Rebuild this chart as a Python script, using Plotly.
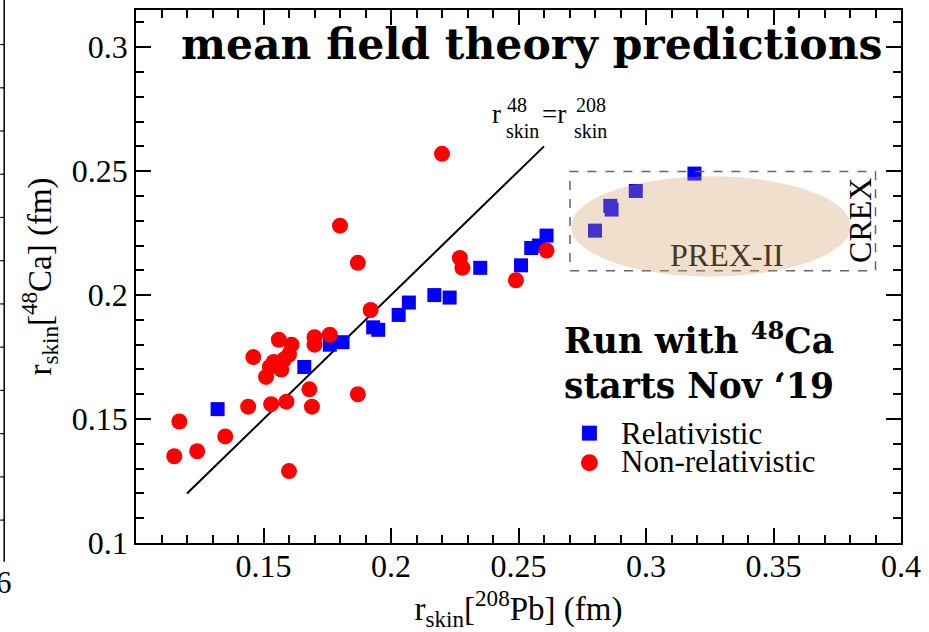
import plotly.graph_objects as go

# Neutron-skin predictions: r_skin[208Pb] (x) vs r_skin[48Ca] (y), in fm
rel_pb = [0.132, 0.166, 0.176, 0.181, 0.193, 0.195, 0.203, 0.207, 0.217, 0.223,
          0.235, 0.251, 0.255, 0.258, 0.261, 0.280, 0.286, 0.2865, 0.296, 0.319]
rel_ca = [0.154, 0.171, 0.180, 0.181, 0.187, 0.186, 0.192, 0.197, 0.200, 0.199,
          0.211, 0.212, 0.219, 0.220, 0.224, 0.226, 0.236, 0.2345, 0.242, 0.249]

nonrel_pb = [0.115, 0.117, 0.124, 0.135, 0.144, 0.146, 0.151, 0.1525, 0.153, 0.154,
             0.156, 0.157, 0.158, 0.159, 0.160, 0.160, 0.161, 0.168, 0.169, 0.170,
             0.170, 0.176, 0.180, 0.187, 0.187, 0.192, 0.220, 0.227, 0.228, 0.249,
             0.261]
nonrel_ca = [0.135, 0.149, 0.137, 0.143, 0.155, 0.175, 0.167, 0.171, 0.156, 0.173,
             0.182, 0.170, 0.174, 0.157, 0.176, 0.129, 0.180, 0.162, 0.155, 0.183,
             0.180, 0.184, 0.228, 0.213, 0.160, 0.194, 0.257, 0.215, 0.211, 0.206,
             0.218]

# Equal-skin reference line r48 = r208
equal_line = [0.12, 0.26]

x_tickvals = [0.15, 0.2, 0.25, 0.3, 0.35, 0.4]
x_ticktext = ["0.15", "0.2", "0.25", "0.3", "0.35", "0.4"]
y_tickvals = [0.1, 0.15, 0.2, 0.25, 0.3]
y_ticktext = ["0.1", "0.15", "0.2", "0.25", "0.3"]

legend_names = ["Relativistic", "Non-relativistic"]

# PREX-II projection ellipse and CREX box (data units)
prex_x = [0.2706, 0.3803]
prex_y = [0.2075, 0.2479]
crex_x = [0.2702, 0.3900]
crex_y = [0.2098, 0.2499]

SERIF = "Liberation Serif, Times New Roman, serif"
SLAB = "DejaVu Serif, serif"
BLUE = "#0000ff"
RED = "#ff0000"

fig = go.Figure()

fig.add_trace(go.Scatter(
    x=equal_line, y=equal_line, mode="lines",
    line=dict(color="black", width=2), showlegend=False, hoverinfo="skip"))

fig.add_trace(go.Scatter(
    x=rel_pb, y=rel_ca, mode="markers", name=legend_names[0], showlegend=False,
    marker=dict(symbol="square", size=14, color=BLUE)))

fig.add_trace(go.Scatter(
    x=nonrel_pb, y=nonrel_ca, mode="markers", name=legend_names[1], showlegend=False,
    marker=dict(symbol="circle", size=16, color=RED)))

axis_common = dict(
    showgrid=False, zeroline=False, showline=True, linecolor="black",
    linewidth=1.5, mirror="allticks", ticks="inside", ticklen=15,
    tickwidth=1.5, tickcolor="black",
    tickfont=dict(family=SERIF, size=32, color="black"),
    minor=dict(ticks="inside", ticklen=8, tickwidth=1.5, tickcolor="black",
               dtick=0.01, tick0=0.1, showgrid=False),
)

fig.update_xaxes(
    range=[0.1, 0.4], tickmode="array", tickvals=x_tickvals, ticktext=x_ticktext,
    ticklabelstandoff=-6,
    title=dict(text="r<sub>skin</sub>[<sup>208</sup>Pb] (fm)",
               font=dict(family=SERIF, size=33, color="black"), standoff=17),
    **axis_common)
fig.update_yaxes(
    range=[0.1, 0.315], tickmode="array", tickvals=y_tickvals, ticktext=y_ticktext,
    title=dict(text="r<sub>skin</sub>[<sup>48</sup>Ca] (fm)",
               font=dict(family=SERIF, size=33, color="black"), standoff=10),
    **axis_common)

shapes = [
    dict(type="rect", xref="x", yref="y", x0=crex_x[0], x1=crex_x[1],
         y0=crex_y[0], y1=crex_y[1], line=dict(color="#666666", width=1.5, dash="dash"),
         fillcolor="rgba(0,0,0,0)", layer="above"),
    dict(type="circle", xref="x", yref="y", x0=prex_x[0], x1=prex_x[1],
         y0=prex_y[0], y1=prex_y[1], line=dict(width=0),
         fillcolor="rgba(205,155,95,0.32)", layer="above"),
]


def px_to_paper(px, py):
    """Pixel position in the figure -> paper coordinates of the plot area."""
    return (px - 136) / 766.0, (548 - py) / 540.0


# legend key: square and circle symbols with their labels
key_x, key_y0 = px_to_paper(590, 436.7)
_, key_y1 = px_to_paper(590, 466.7)
shapes.append(dict(type="rect", xref="paper", yref="paper", xsizemode="pixel",
                   ysizemode="pixel", xanchor=key_x, yanchor=key_y0,
                   x0=-7.5, x1=7.5, y0=-7.5, y1=7.5, fillcolor=BLUE,
                   line=dict(width=0)))
shapes.append(dict(type="circle", xref="paper", yref="paper", xsizemode="pixel",
                   ysizemode="pixel", xanchor=key_x, yanchor=key_y1,
                   x0=-8.5, x1=8.5, y0=-8.5, y1=8.5, fillcolor=RED,
                   line=dict(width=0)))

# edge of the neighbouring panel on the far left
edge_x = -0.1723
shapes.append(dict(type="line", xref="paper", yref="paper", x0=edge_x, x1=edge_x,
                   y0=-0.035, y1=1.02, line=dict(color="black", width=1.5)))
for i in range(12):
    yp = 1.0 - (43 + i * 43.8 - 8) / 540.0
    shapes.append(dict(type="line", xref="paper", yref="paper", x0=-0.1775, x1=edge_x,
                       y0=yp, y1=yp, line=dict(color="black", width=1.2)))

text_x, _ = px_to_paper(620, 0)
_, text_y0 = px_to_paper(0, 436.2)
_, text_y1 = px_to_paper(0, 464.5)

annotations = [
    dict(text="<b>mean field theory predictions</b>", xref="x", yref="paper",
         x=0.2551, y=0.937, xanchor="center", yanchor="middle", showarrow=False,
         font=dict(family=SLAB, size=42.5, color="black")),
    dict(text="<b>Run with <sup>48</sup>Ca<br>starts Nov \u201819</b>", xref="x", yref="paper",
         x=0.2672, y=0.342, xanchor="left", yanchor="middle", align="left",
         showarrow=False, font=dict(family=SLAB, size=34.5, color="black")),
    dict(text=legend_names[0], xref="paper", yref="paper", x=text_x, y=text_y0,
         xanchor="left", yanchor="middle", showarrow=False, height=26,
         font=dict(family=SERIF, size=31, color="black")),
    dict(text=legend_names[1], xref="paper", yref="paper", x=text_x, y=text_y1,
         xanchor="left", yanchor="middle", showarrow=False, height=26,
         font=dict(family=SERIF, size=31, color="black")),
    dict(text="PREX-II", xref="x", yref="y", x=0.3317, y=0.2160,
         xanchor="center", yanchor="middle", showarrow=False,
         font=dict(family=SERIF, size=32, color="#45381f")),
    dict(text="CREX", xref="x", yref="y", x=0.3839, y=0.2303, textangle=-90,
         xanchor="center", yanchor="middle", showarrow=False,
         font=dict(family=SERIF, size=32, color="black")),
    dict(text="6", xref="paper", yref="paper", x=-0.172, y=-0.074,
         xanchor="center", yanchor="middle", showarrow=False,
         font=dict(family=SERIF, size=31, color="black")),
]

# label of the equal-skin line, built piece by piece so sup/sub stack
top = equal_line[1]
label_parts = [
    ("r", 27, -54, 32),
    ("48", 20, -39, 41),
    ("skin", 20, -40, 15),
    ("=r", 27, -4, 32),
    ("208", 20, 30, 41),
    ("skin", 20, 28, 15),
]
for txt, size, dx, dy in label_parts:
    annotations.append(dict(
        text=txt, xref="x", yref="y", x=top, y=top, xshift=dx, yshift=dy,
        xanchor="left", yanchor="middle", showarrow=False,
        font=dict(family=SERIF, size=size, color="black")))

fig.update_layout(
    width=929, height=632,
    margin=dict(l=136, r=27, t=8, b=84),
    paper_bgcolor="white", plot_bgcolor="white",
    shapes=shapes, annotations=annotations,
    showlegend=False,
)

fig.write_html("out.html")
